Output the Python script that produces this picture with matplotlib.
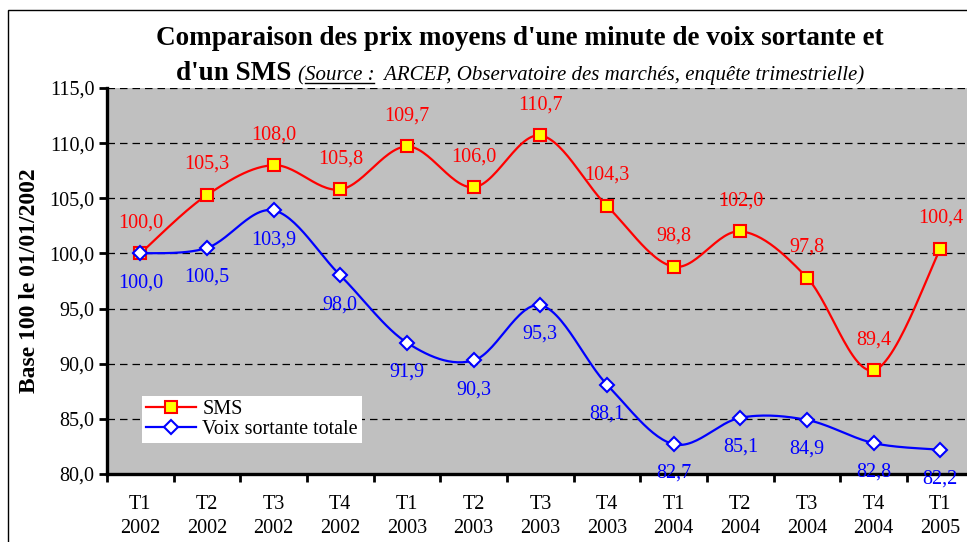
import numpy as np
import matplotlib
matplotlib.use("Agg")
from matplotlib import pyplot as plt
from matplotlib.lines import Line2D
from matplotlib.patches import Rectangle

# data
quarters = ["T1\n2002", "T2\n2002", "T3\n2002", "T4\n2002",
            "T1\n2003", "T2\n2003", "T3\n2003", "T4\n2003",
            "T1\n2004", "T2\n2004", "T3\n2004", "T4\n2004",
            "T1\n2005"]
sms = [100.0, 105.3, 108.0, 105.8, 109.7, 106.0, 110.7, 104.3, 98.8, 102.0, 97.8, 89.4, 100.4]
voix = [100.0, 100.5, 103.9, 98.0, 91.9, 90.3, 95.3, 88.1, 82.7, 85.1, 84.9, 82.8, 82.2]

SERIF = "Liberation Serif"
plt.rcParams["font.family"] = SERIF
FS = 14.5


def fr(v):
    return f"{v:.1f}".replace(".", ",")


def smooth(y, n=30):
    # excel-like smoothed line (catmull-rom bezier)
    pts = np.column_stack([np.arange(len(y)), y]).astype(float)
    P = np.vstack([pts[0], pts, pts[-1]])
    t = np.linspace(0, 1, n)[:, None]
    out = []
    for i in range(len(pts) - 1):
        p0, p1, p2, p3 = P[i], P[i + 1], P[i + 2], P[i + 3]
        c1 = p1 + (p2 - p0) / 6
        c2 = p2 - (p3 - p1) / 6
        seg = (1 - t) ** 3 * p1 + 3 * (1 - t) ** 2 * t * c1 + 3 * (1 - t) * t ** 2 * c2 + t ** 3 * p2
        out.append(seg if i == 0 else seg[1:])
    return np.vstack(out)


W, H = 967, 542
fig = plt.figure(figsize=(W / 100, H / 100), dpi=100)
fig.patch.set_facecolor("white")

# outer frame of the chart
fig.add_artist(Rectangle((8 / W, -0.05), 1.2, (H - 10) / H + 0.05, transform=fig.transFigure,
                         fill=False, edgecolor="black", linewidth=1.0))

ax = fig.add_axes([107 / W, 1 - 474 / H, 866.7 / W, (474 - 88) / H])
ax.set_facecolor("#C0C0C0")

x = np.arange(len(quarters))
s_sms = smooth(sms)
s_voix = smooth(voix)
ax.plot(s_sms[:, 0], s_sms[:, 1], color="#FF0000", lw=1.6, zorder=3)
ax.plot(s_voix[:, 0], s_voix[:, 1], color="#0000FF", lw=1.6, zorder=3)
ax.plot(x, sms, ls="none", marker="s", ms=8, mfc="#FFFF00", mec="#FF0000", mew=1.5, zorder=4)
ax.plot(x, voix, ls="none", marker="D", ms=7, mfc="white", mec="#0000FF", mew=1.5, zorder=4)

for i, v in enumerate(sms):
    ax.annotate(fr(v), (i, v), xytext=(0, 22), textcoords="offset points",
                ha="center", va="center", color="#FF0000", fontsize=FS, zorder=5)
for i, v in enumerate(voix):
    ax.annotate(fr(v), (i, v), xytext=(0, -21), textcoords="offset points",
                ha="center", va="center", color="#0000FF", fontsize=FS, zorder=5,
                annotation_clip=False)

ax.set_xlim(-0.5, len(quarters) - 0.5)
ax.set_ylim(80, 115)
ax.set_yticks(np.arange(80, 115.1, 5))
ax.set_yticklabels([fr(v) for v in np.arange(80, 115.1, 5)], fontsize=FS)
ax.set_xticks(x)
ax.set_xticklabels(quarters, fontsize=FS, linespacing=1.4)
ax.set_xticks(np.arange(-0.5, len(quarters), 1), minor=True)
ax.tick_params(axis="x", which="major", length=0, pad=15)
ax.tick_params(axis="x", which="minor", length=6, width=2, direction="out")
ax.tick_params(axis="y", length=6, width=2, direction="out", pad=3)

ax.yaxis.grid(True, color="black", ls=(0, (6, 4)), lw=0.9)
ax.set_axisbelow(True)
for side in ["top", "right"]:
    ax.spines[side].set_visible(False)
for side in ["left", "bottom"]:
    ax.spines[side].set_linewidth(2.4)

ax.set_ylabel("Base 100 le 01/01/2002", fontsize=17, fontweight="bold")
ax.yaxis.set_label_coords(-67 / 866.7, 0.5)

handles = [Line2D([], [], color="#FF0000", lw=1.6, marker="s", ms=8, mfc="#FFFF00", mec="#FF0000", mew=1.5),
           Line2D([], [], color="#0000FF", lw=1.6, marker="D", ms=7, mfc="white", mec="#0000FF", mew=1.5)]
leg = ax.legend(handles, ["SMS", "Voix sortante totale"], loc="lower left",
                bbox_to_anchor=(35 / 866.7, 31 / 386), borderaxespad=0, fontsize=FS,
                frameon=True, fancybox=False, framealpha=1, edgecolor="white",
                handlelength=2.5, handletextpad=0.3, labelspacing=0.05, borderpad=0.2)
leg.get_frame().set_linewidth(0)

# title
fig.text(520 / W, 1 - 45 / H, "Comparaison des prix moyens d'une minute de voix sortante et",
         ha="center", va="baseline", fontsize=19.5, fontweight="bold")

# second title line built from pieces
renderer = fig.canvas.get_renderer()
pieces = [("d'un SMS ", dict(fontsize=19.5, fontweight="bold")),
          ("(", dict(fontsize=15, style="italic")),
          ("Source :", dict(fontsize=15, style="italic")),
          ("  ARCEP, Observatoire des marchés, enquête trimestrielle)", dict(fontsize=15, style="italic"))]
base_y = 1 - 80 / H
texts = []
xpos = 0.0
for s, kw in pieces:
    t = fig.text(xpos, base_y, s, ha="left", va="baseline", **kw)
    texts.append(t)
    xpos += t.get_window_extent(renderer).width / W
shift = 520 / W - xpos / 2
for t in texts:
    t.set_x(t.get_position()[0] + shift)
src = texts[2].get_window_extent(renderer)
uy = base_y - 3 / H
fig.add_artist(Line2D([src.x0 / W, src.x1 / W], [uy, uy], transform=fig.transFigure,
                      color="black", lw=1.0))

fig.savefig("out.png", dpi=100)
